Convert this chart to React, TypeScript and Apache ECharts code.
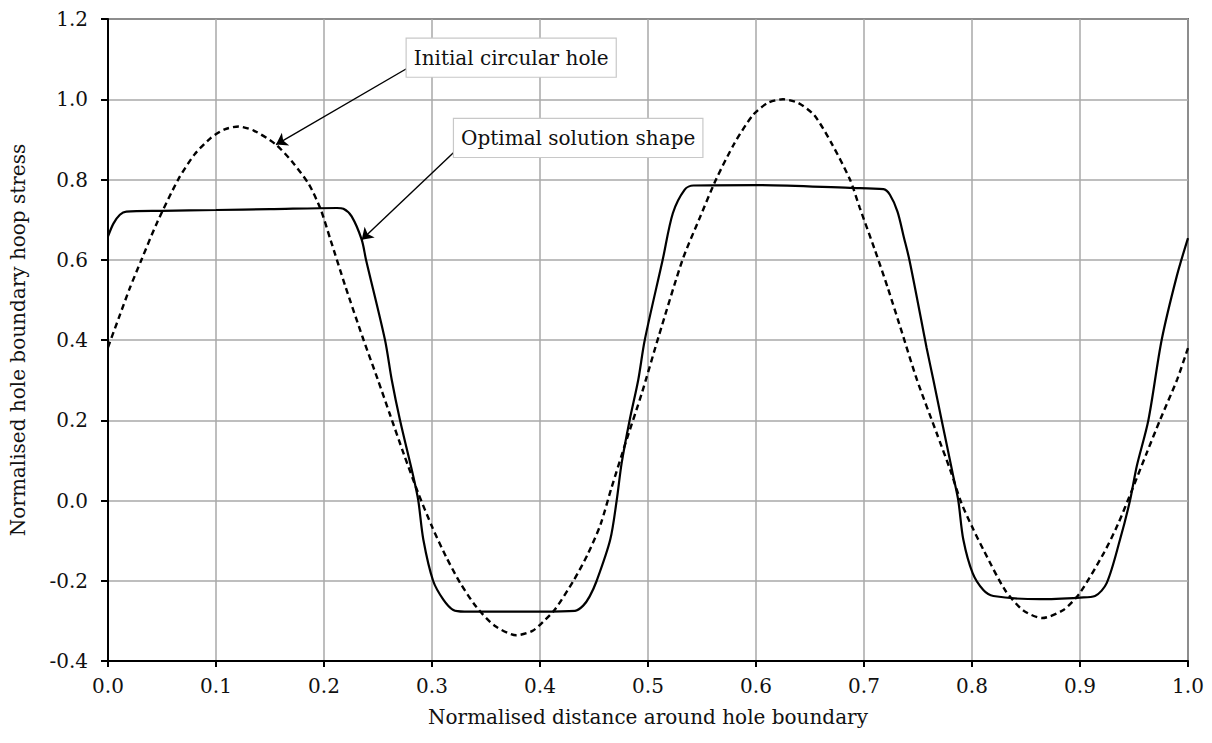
import React, { useEffect, useRef } from "react";
import * as echarts from "echarts";

const FONT = '"DejaVu Serif", "Liberation Serif", serif';

const xAxisTitle = "Normalised distance around hole boundary";
const yAxisTitle = "Normalised hole boundary hoop stress";

// Dashed curve: initial circular hole
const initialHole: [number, number][] = [
  [0.000, 0.382], [0.010, 0.455], [0.020, 0.528], [0.031, 0.600], [0.045, 0.690],
  [0.065, 0.800], [0.080, 0.862], [0.095, 0.903], [0.108, 0.925], [0.121, 0.932],
  [0.135, 0.922], [0.155, 0.888], [0.170, 0.846], [0.186, 0.788], [0.197, 0.725],
  [0.206, 0.650], [0.220, 0.532], [0.236, 0.405], [0.250, 0.300], [0.261, 0.215],
  [0.274, 0.115], [0.287, 0.020], [0.300, -0.065], [0.313, -0.140], [0.326, -0.205],
  [0.341, -0.265], [0.358, -0.312], [0.378, -0.336], [0.393, -0.325], [0.403, -0.302],
  [0.414, -0.271], [0.431, -0.200], [0.444, -0.135], [0.456, -0.060], [0.466, 0.030],
  [0.480, 0.150], [0.494, 0.265], [0.510, 0.410], [0.532, 0.600], [0.548, 0.705],
  [0.563, 0.800], [0.580, 0.890], [0.597, 0.960], [0.611, 0.991], [0.625, 1.000],
  [0.639, 0.991], [0.654, 0.960], [0.670, 0.890], [0.687, 0.800], [0.696, 0.730],
  [0.710, 0.625], [0.722, 0.530], [0.735, 0.420], [0.749, 0.301], [0.767, 0.170],
  [0.780, 0.075], [0.790, -0.005], [0.800, -0.065], [0.811, -0.125], [0.831, -0.225],
  [0.848, -0.275], [0.865, -0.293], [0.885, -0.272], [0.900, -0.230], [0.922, -0.131],
  [0.935, -0.060], [0.948, 0.025], [0.962, 0.120], [0.974, 0.200], [0.990, 0.302],
  [1.000, 0.380],
];

// Solid curve: optimal solution shape
const optimalShape: [number, number][] = [
  [0.000, 0.658], [0.005, 0.690], [0.011, 0.712], [0.017, 0.720], [0.050, 0.722],
  [0.100, 0.724], [0.150, 0.726], [0.212, 0.729], [0.218, 0.727], [0.2256, 0.708],
  [0.2349, 0.650], [0.2389, 0.600], [0.2565, 0.400], [0.2627, 0.301], [0.2704, 0.200],
  [0.2827, 0.060], [0.2873, 0.000], [0.292, -0.098], [0.301, -0.200], [0.3105, -0.247],
  [0.3197, -0.273], [0.330, -0.277], [0.400, -0.277], [0.4324, -0.275], [0.440, -0.262],
  [0.446, -0.239], [0.4525, -0.200], [0.465, -0.098], [0.471, 0.000], [0.4756, 0.093],
  [0.483, 0.200], [0.491, 0.301], [0.497, 0.400], [0.5136, 0.600], [0.523, 0.716],
  [0.534, 0.775], [0.542, 0.785], [0.600, 0.786], [0.687, 0.779], [0.718, 0.776],
  [0.724, 0.762], [0.731, 0.720], [0.737, 0.655], [0.742, 0.600], [0.753, 0.450],
  [0.758, 0.380], [0.7642, 0.301], [0.7719, 0.200], [0.7827, 0.060], [0.7873, 0.000],
  [0.792, -0.098], [0.8006, -0.181], [0.8105, -0.223], [0.8198, -0.238], [0.863, -0.246],
  [0.900, -0.242], [0.9139, -0.238], [0.9247, -0.206], [0.937, -0.098], [0.9463, 0.000],
  [0.9525, 0.085], [0.9633, 0.200], [0.9756, 0.400], [0.9895, 0.558], [1.000, 0.654],
];

// Annotations (data coordinates)
const labelTexts = ["Initial circular hole", "Optimal solution shape"];
const labelAnchors: [number, number][] = [[0.2766, 1.151], [0.3204, 0.951]];
const arrowStarts: [number, number][] = [[0.2827, 1.086], [0.3259, 0.8825]];
const arrowTips: [number, number][] = [[0.1556, 0.887], [0.2349, 0.650]];

export default function App() {
  const ref = useRef<HTMLDivElement>(null);
  useEffect(() => {
    const chart = echarts.init(ref.current!, null, { renderer: "svg" });
    const tickLabel = { fontFamily: FONT, fontSize: 20, color: "#111" };
    chart.setOption({
      animation: false,
      backgroundColor: "#fff",
      grid: {
        left: 108, right: 24, top: 19, bottom: 82,
        show: true, borderColor: "#000", borderWidth: 1.5,
      },
      xAxis: {
        type: "value", min: 0, max: 1, interval: 0.1,
        name: xAxisTitle, nameLocation: "middle", nameGap: 46,
        nameTextStyle: { fontFamily: FONT, fontSize: 20, color: "#111" },
        axisLine: { show: true, onZero: false, lineStyle: { color: "#000", width: 2 } },
        axisTick: { show: true, inside: false, length: 6, lineStyle: { color: "#000", width: 2 } },
        axisLabel: { ...tickLabel, margin: 15, formatter: (v: number) => v.toFixed(1) },
        splitLine: { show: true, lineStyle: { color: "#a8a8a8", width: 1.5 } },
      },
      yAxis: {
        type: "value", min: -0.4, max: 1.2, interval: 0.2,
        name: yAxisTitle, nameLocation: "middle", nameGap: 80,
        nameTextStyle: { fontFamily: FONT, fontSize: 20, color: "#111" },
        axisLine: { show: true, onZero: false, lineStyle: { color: "#000", width: 2 } },
        axisTick: { show: true, inside: false, length: 7, lineStyle: { color: "#000", width: 2 } },
        axisLabel: { ...tickLabel, margin: 20, formatter: (v: number) => v.toFixed(1) },
        splitLine: { show: true, lineStyle: { color: "#a8a8a8", width: 1.5 } },
      },
      series: [
        {
          name: "Initial circular hole",
          type: "line",
          data: initialHole,
          showSymbol: false,
          smooth: 0.25,
          lineStyle: { color: "#000", width: 2.4, type: [6, 4] },
          markLine: {
            silent: true,
            symbol: ["none", "arrow"],
            symbolSize: 11,
            label: { show: false },
            lineStyle: { color: "#000", width: 1.4, type: "solid" },
            data: arrowStarts.map((s, i) => [{ coord: s }, { coord: arrowTips[i] }]),
          },
          z: 3,
        },
        {
          name: "Optimal solution shape",
          type: "line",
          data: optimalShape,
          showSymbol: false,
          smooth: 0.3,
          lineStyle: { color: "#000", width: 2.2, type: "solid" },
          z: 4,
        },
      ],
    });
    const gfx = labelTexts.map((t, i) => {
      const p = chart.convertToPixel({ gridIndex: 0 }, labelAnchors[i]) as number[];
      return {
        type: "text",
        x: p[0],
        y: p[1],
        z: 100,
        style: {
          text: t,
          fontFamily: FONT,
          fontSize: 20,
          fill: "#111",
          backgroundColor: "#fff",
          borderColor: "#c8c8c8",
          borderWidth: 1.2,
          padding: [9, 7, 9, 7],
        },
      };
    });
    chart.setOption({ graphic: gfx });
    return () => chart.dispose();
  }, []);
  return (
    <div
      ref={ref}
      style={{ position: "fixed", left: 0, top: 0, width: 1212, height: 743 }}
    />
  );
}
